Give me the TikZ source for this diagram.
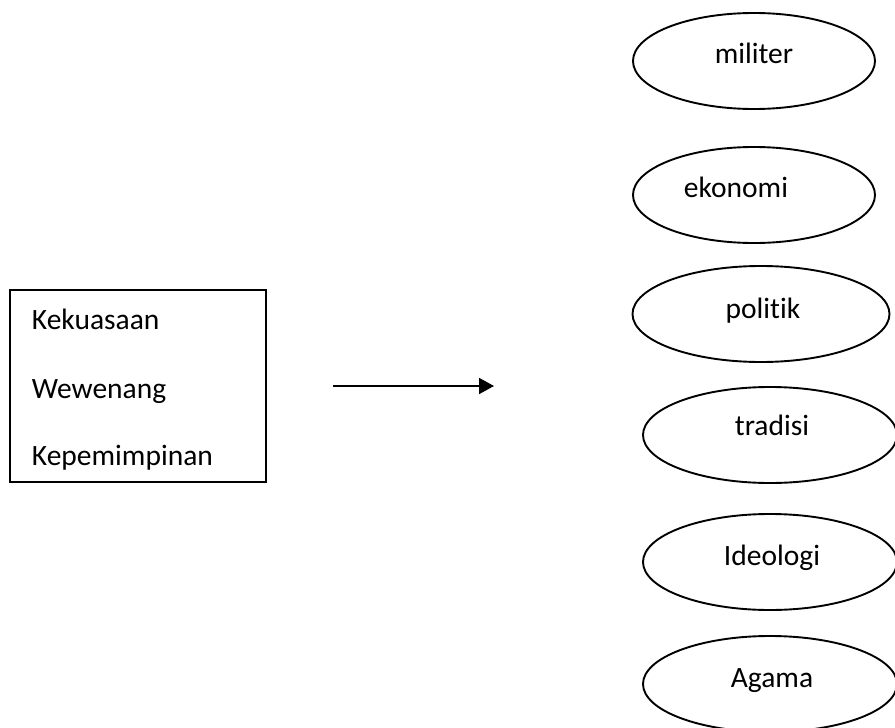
\documentclass[tikz,border=0pt]{standalone}
\usepackage{fontspec}
\setmainfont{Carlito}[RawFeature={-liga}]
\usetikzlibrary{shapes.geometric,arrows.meta}
\begin{document}
\begin{tikzpicture}[x=1pt,y=-1pt,
  line width=1.9pt,
  every node/.style={font=\fontsize{29.5}{35}\selectfont},
  oval/.style={draw,ellipse,inner sep=0pt,minimum height=96pt},
  word/.style={anchor=base,inner sep=0pt},
  listword/.style={anchor=base west,inner sep=0pt},
  box/.style={draw,rectangle,inner sep=0pt,minimum width=256pt,minimum height=192pt}
]
\useasboundingbox (0,0) rectangle (895,728);

% left box with its three terms
\node[box] (src) at (138,386) {};
\node[listword] (k1) at (31,329) {Kekuasaan};
\node[listword] (k2) at (31,398) {Wewenang};
\node[listword] (k3) at (31,465) {Kepemimpinan};

% arrow
\coordinate (a0) at (333,386);
\coordinate (a1) at (494,386);
\draw[-{Triangle[length=15pt,width=16pt]}] (a0) -- (a1);

% ellipses on the right
\node[oval,minimum width=242pt] (e1) at (754,61) {};
\node[word] (t1) at (754,63) {militer};

\node[oval,minimum width=242pt] (e2) at (754,195) {};
\node[word] (t2) at (736,197) {ekonomi};

\node[oval,minimum width=257pt] (e3) at (761,314) {};
\node[word] (t3) at (763,318) {politik};

\node[oval,minimum width=254pt] (e4) at (770,435) {};
\node[word] (t4) at (772,435) {tradisi};

\node[oval,minimum width=254pt] (e5) at (770,562) {};
\node[word] (t5) at (772,565) {Ideologi};

\node[oval,minimum width=254pt] (e6) at (770,684) {};
\node[word] (t6) at (772,687) {Agama};
\end{tikzpicture}
\end{document}
